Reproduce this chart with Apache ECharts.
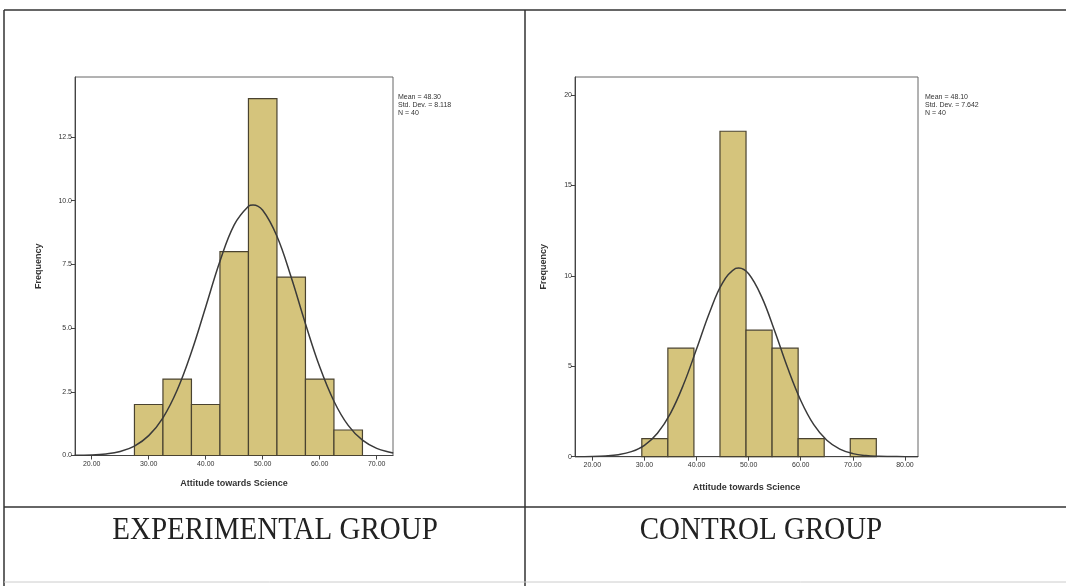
<!DOCTYPE html>
<html>
<head>
<meta charset="utf-8">
<script src="https://cdn.jsdelivr.net/npm/echarts@6/dist/echarts.min.js"></script>
<style>
html,body{margin:0;padding:0;background:#fff;}
#chart{width:1066px;height:586px;}
</style>
</head>
<body>
<div id="chart"></div>
<script>
// ---- Data ----
const binWidth = 5;
const expBinStart = [27.5, 32.5, 37.5, 42.5, 47.5, 52.5, 57.5, 62.5];
const expCounts   = [2, 3, 2, 8, 14, 7, 3, 1];
const ctrlBinStart = [29.5, 34.5, 39.5, 44.5, 49.5, 54.5, 59.5, 64.5, 69.5];
const ctrlCounts   = [1, 6, 0, 18, 7, 6, 1, 0, 1];

// normal curves
const expCurveX = [17, 20, 22.5, 25, 27.5, 30, 32.5, 35, 37.5, 40, 42.5, 45, 47.5, 48.3, 50, 52.5, 55, 57.5, 60, 62.5, 65, 67.5, 70, 72.5, 72.9];
const expCurveY = [0.01, 0.02, 0.06, 0.16, 0.37, 0.78, 1.48, 2.57, 4.06, 5.83, 7.62, 9.05, 9.78, 9.83, 9.62, 8.60, 6.99, 5.17, 3.48, 2.13, 1.18, 0.60, 0.28, 0.12, 0.10];
const ctrlCurveX = [16.7, 20, 22.5, 25, 27.5, 30, 32.5, 35, 37.5, 40, 42.5, 45, 47.5, 48.1, 50, 52.5, 55, 57.5, 60, 62.5, 65, 67.5, 70, 72.5, 75, 77.5, 80, 82.5];
const ctrlCurveY = [0.00, 0.01, 0.04, 0.11, 0.28, 0.63, 1.30, 2.40, 3.99, 5.95, 7.98, 9.62, 10.41, 10.44, 10.12, 8.84, 6.95, 4.90, 3.11, 1.77, 0.91, 0.42, 0.17, 0.06, 0.02, 0.01, 0.00, 0.00];

const expXTicks = [20, 30, 40, 50, 60, 70];
const expYTicks = [0, 2.5, 5, 7.5, 10, 12.5];
const ctrlXTicks = [20, 30, 40, 50, 60, 70, 80];
const ctrlYTicks = [0, 5, 10, 15, 20];

const expStats = ['Mean = 48.30', 'Std. Dev. = 8.118', 'N = 40'];
const ctrlStats = ['Mean = 48.10', 'Std. Dev. = 7.642', 'N = 40'];
const groupLabels = ['EXPERIMENTAL GROUP', 'CONTROL GROUP'];
const xName = 'Attitude towards Science';
const yName = 'Frequency';

// ---- Build ----
const FONT = 'Liberation Sans';
const BAR_FILL = '#D5C47C';
const BAR_STROKE = '#4a4330';

function binData(starts, counts) {
  return starts.map((s, i) => [s, s + binWidth, counts[i]]);
}
function pairs(xs, ys) { return xs.map((x, i) => [x, ys[i]]); }

function renderBin(params, api) {
  const c = api.value(2);
  if (!c) return null;
  const p0 = api.coord([api.value(0), 0]);
  const p1 = api.coord([api.value(1), c]);
  return {
    type: 'rect',
    shape: { x: p0[0], y: p1[1], width: p1[0] - p0[0], height: p0[1] - p1[1] },
    style: { fill: BAR_FILL, stroke: BAR_STROKE, lineWidth: 1.2 }
  };
}

function xAxisCfg(idx, min, max, ticks, gap) {
  return {
    type: 'value', gridIndex: idx, min: min, max: max,
    name: xName, nameLocation: 'middle', nameGap: gap,
    nameTextStyle: { fontFamily: FONT, fontWeight: 'bold', fontSize: 9, color: '#333' },
    axisLine: { show: true, lineStyle: { color: '#444', width: 1 } },
    axisTick: { show: true, length: 4, customValues: ticks, lineStyle: { color: '#444' } },
    axisLabel: { customValues: ticks, formatter: v => v.toFixed(2), fontFamily: FONT, fontSize: 7, color: '#333', margin: 5 },
    splitLine: { show: false }
  };
}
function yAxisCfg(idx, max, ticks, fmt, gap) {
  return {
    type: 'value', gridIndex: idx, min: 0, max: max,
    name: yName, nameLocation: 'middle', nameGap: gap, nameRotate: 90,
    nameTextStyle: { fontFamily: FONT, fontWeight: 'bold', fontSize: 9, color: '#333' },
    axisLine: { show: true, lineStyle: { color: '#444', width: 1 } },
    axisTick: { show: true, length: 4, customValues: ticks, lineStyle: { color: '#444' } },
    axisLabel: { customValues: ticks, formatter: fmt, fontFamily: FONT, fontSize: 7, color: '#333', margin: 3 },
    splitLine: { show: false }
  };
}

function statsText(x, lines) {
  return {
    type: 'text', left: x, top: 93, z: 10,
    style: { text: lines.join('\n'), font: '7px ' + FONT, fill: '#333', lineHeight: 8 }
  };
}

const lineColor = '#333';
const graphics = [
  { type: 'line', shape: { x1: 4, y1: 10, x2: 1066, y2: 10 }, style: { stroke: lineColor, lineWidth: 1.5 } },
  { type: 'line', shape: { x1: 4, y1: 10, x2: 4, y2: 586 }, style: { stroke: lineColor, lineWidth: 1.5 } },
  { type: 'line', shape: { x1: 525, y1: 10, x2: 525, y2: 586 }, style: { stroke: lineColor, lineWidth: 1.5 } },
  { type: 'line', shape: { x1: 4, y1: 507, x2: 1066, y2: 507 }, style: { stroke: lineColor, lineWidth: 1.5 } },
  { type: 'line', shape: { x1: 4, y1: 582, x2: 1066, y2: 582 }, style: { stroke: '#ccc', lineWidth: 1 } },
  statsText(398, expStats),
  statsText(925, ctrlStats),
  { type: 'text', x: 275, y: 515, scaleY: 1.1,
    style: { text: groupLabels[0], font: '29px "Liberation Serif"', fill: '#222', textAlign: 'center', textVerticalAlign: 'top' } },
  { type: 'text', x: 761, y: 515, scaleY: 1.1,
    style: { text: groupLabels[1], font: '29px "Liberation Serif"', fill: '#222', textAlign: 'center', textVerticalAlign: 'top' } }
];

const option = {
  animation: false,
  backgroundColor: '#fff',
  grid: [
    { left: 75, top: 77, width: 318, height: 378.5, show: true, borderColor: '#666', borderWidth: 1, backgroundColor: 'transparent' },
    { left: 575, top: 77, width: 343, height: 379.7, show: true, borderColor: '#666', borderWidth: 1, backgroundColor: 'transparent' }
  ],
  xAxis: [
    xAxisCfg(0, 17.07, 72.86, expXTicks, 24),
    xAxisCfg(1, 16.68, 82.5, ctrlXTicks, 26)
  ],
  yAxis: [
    yAxisCfg(0, 14.85, expYTicks, v => v.toFixed(1), 32),
    yAxisCfg(1, 21, ctrlYTicks, v => String(v), 27)
  ],
  series: [
    { type: 'custom', xAxisIndex: 0, yAxisIndex: 0, data: binData(expBinStart, expCounts), renderItem: renderBin, encode: { x: [0, 1], y: 2 } },
    { type: 'line', xAxisIndex: 0, yAxisIndex: 0, data: pairs(expCurveX, expCurveY), smooth: 0.4, showSymbol: false, lineStyle: { color: '#3a3a3a', width: 1.5 }, z: 5 },
    { type: 'custom', xAxisIndex: 1, yAxisIndex: 1, data: binData(ctrlBinStart, ctrlCounts), renderItem: renderBin, encode: { x: [0, 1], y: 2 } },
    { type: 'line', xAxisIndex: 1, yAxisIndex: 1, data: pairs(ctrlCurveX, ctrlCurveY), smooth: 0.4, showSymbol: false, lineStyle: { color: '#3a3a3a', width: 1.5 }, z: 5 }
  ],
  graphic: graphics
};

const chart = echarts.init(document.getElementById('chart'), null, { renderer: 'canvas' });
chart.setOption(option);
</script>
</body>
</html>
